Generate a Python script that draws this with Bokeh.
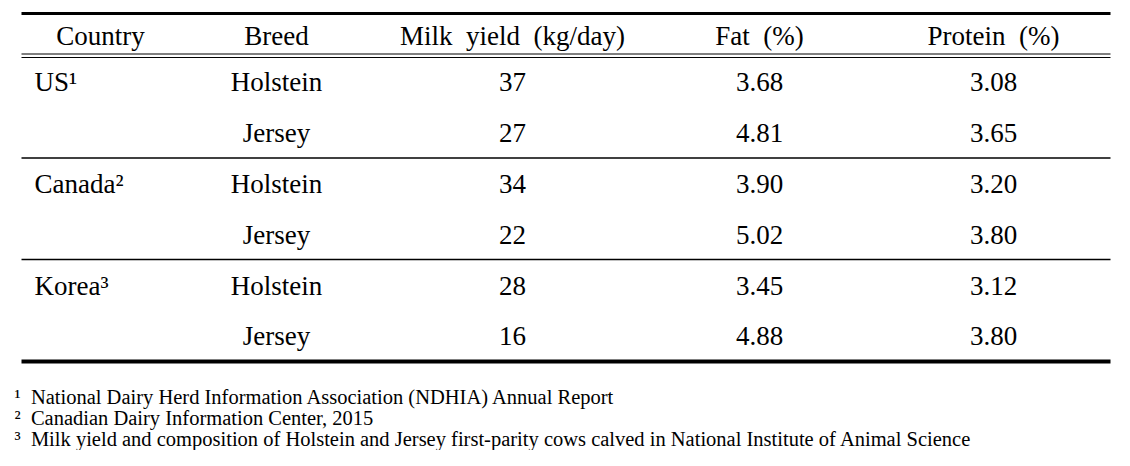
from bokeh.plotting import figure
from bokeh.models import Range1d
from bokeh.core.properties import value
from bokeh.embed import file_html
from bokeh.resources import INLINE

# ---- data ----
headers = ["Country", "Breed", "Milk\u00a0 yield\u00a0 (kg/day)", "Fat\u00a0 (%)", "Protein\u00a0 (%)"]
countries = ["US\u00b9", "", "Canada\u00b2", "", "Korea\u00b3", ""]
breeds = ["Holstein", "Jersey", "Holstein", "Jersey", "Holstein", "Jersey"]
milk_yield = [37, 27, 34, 22, 28, 16]
fat = [3.68, 4.81, 3.90, 5.02, 3.45, 4.88]
protein = [3.08, 3.65, 3.20, 3.80, 3.12, 3.80]
footnotes = [
    "\u00b9\u00a0 National Dairy Herd Information Association (NDHIA) Annual Report",
    "\u00b2\u00a0 Canadian Dairy Information Center, 2015",
    "\u00b3\u00a0 Milk yield and composition of Holstein and Jersey first-parity cows calved in National Institute of Animal Science",
]

FONT = value("Liberation Serif")
FS = "27px"
FS_NOTE = "20.5px"

W, H = 1114, 450
p = figure(width=W, height=H, output_backend="svg", toolbar_location=None,
           x_range=Range1d(0, W), y_range=Range1d(H, 0),
           min_border=0, outline_line_color=None)
p.axis.visible = False
p.grid.visible = False
p.background_fill_color = "white"

# layout
col_x = [100, 276, 512, 759, 993]
header_y = 35
row_y = [81, 132, 183, 234, 285, 335]
x0, x1 = 21, 1110

# rules
p.segment(x0=[x0], y0=[13], x1=[x1], y1=[13], line_width=3, line_color="black")
p.segment(x0=[x0, x0], y0=[53.5, 57], x1=[x1, x1], y1=[53.5, 57], line_width=1.2, line_color="black")
p.segment(x0=[x0, x0], y0=[157.5, 259], x1=[x1, x1], y1=[157.5, 259], line_width=1.3, line_color="black")
p.segment(x0=[x0], y0=[361], x1=[x1], y1=[361], line_width=4, line_color="black")

common = dict(text_font=FONT, text_font_size=FS, text_baseline="middle", text_color="black")

# header
p.text(x=col_x, y=[header_y] * 5, text=headers, text_align="center", **common)

# body
p.text(x=[34] * 6, y=row_y, text=countries, text_align="left", **common)
p.text(x=[col_x[1]] * 6, y=row_y, text=breeds, text_align="center", **common)
p.text(x=[col_x[2]] * 6, y=row_y, text=[str(v) for v in milk_yield], text_align="center", **common)
p.text(x=[col_x[3]] * 6, y=row_y, text=["%.2f" % v for v in fat], text_align="center", **common)
p.text(x=[col_x[4]] * 6, y=row_y, text=["%.2f" % v for v in protein], text_align="center", **common)

# footnotes
p.text(x=[14] * 3, y=[396, 417, 438], text=footnotes, text_font=FONT, text_font_size=FS_NOTE,
       text_align="left", text_baseline="middle", text_color="black")

open("out.html", "w").write(file_html(p, INLINE))
